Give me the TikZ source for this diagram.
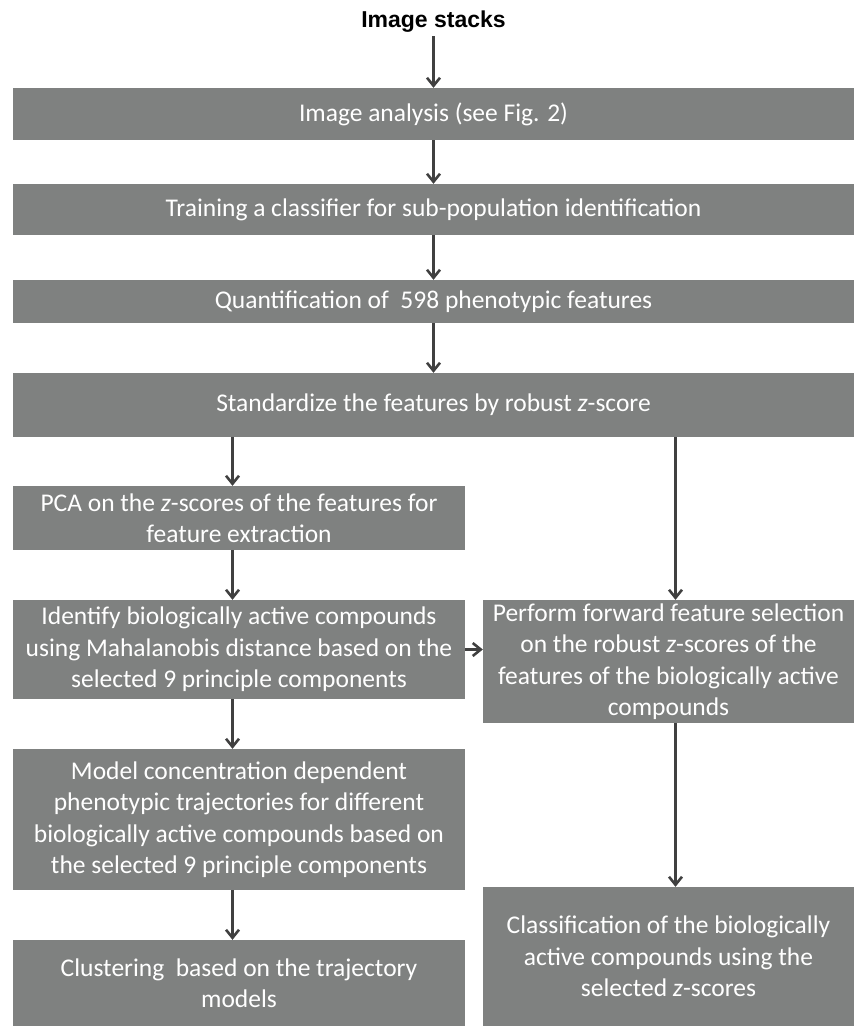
\documentclass[tikz,border=0pt]{standalone}
\usepackage{fontspec}
\setmainfont{Carlito}
\newfontfamily\titlefont{Liberation Sans}
\usetikzlibrary{arrows.meta,positioning}
\definecolor{boxgray}{RGB}{127,129,128}
\definecolor{arrowgray}{RGB}{64,64,64}
\tikzset{
  stepbox/.style={fill=boxgray,text=white,align=center,inner sep=0pt,
    font=\fontsize{25.5}{31.5}\selectfont},
  arr/.style={draw=arrowgray,line width=2.6pt,-{Straight Barb[length=8pt,width=13pt]}}
}

\begin{document}
\begin{tikzpicture}[x=1pt,y=-1pt]
\useasboundingbox (0,0) rectangle (854,1026);
\node[font=\titlefont\bfseries\fontsize{23}{27}\selectfont] (stacks) at (433.5,22) {Image stacks};
% full width steps
\node[stepbox,minimum width=841pt,minimum height=52pt] (analysis) at (433.5,114) {Image analysis (see Fig. 2)};
\node[stepbox,minimum width=841pt,minimum height=51pt] (training) at (433.5,209.5) {Training a classifier for sub-population identification};
\node[stepbox,minimum width=841pt,minimum height=43pt] (quant) at (433.5,301.5) {Quantification of~ 598 phenotypic features};
\node[stepbox,minimum width=841pt,minimum height=64pt] (standard) at (433.5,405) {Standardize the features by robust \textit{z}-score};
% left column
\node[stepbox,minimum width=452pt,minimum height=64pt] (pca) at (239,518) {PCA on the \textit{z}-scores of the features for\\feature extraction};
\node[stepbox,minimum width=452pt,minimum height=99pt] (identify) at (239,649.5) {Identify biologically active compounds\\using Mahalanobis distance based on the\\selected 9 principle components};
\node[stepbox,minimum width=452pt,minimum height=141pt] (model) at (239,819.5) {Model concentration dependent\\phenotypic trajectories for different\\biologically active compounds based on\\the selected 9 principle components};
\node[stepbox,minimum width=452pt,minimum height=86pt] (cluster) at (239,983) {Clustering~ based on the trajectory\\models};
% right column
\node[stepbox,minimum width=371pt,minimum height=123pt] (forward) at (668.5,661.5) {Perform forward feature selection\\on the robust \textit{z}-scores of the\\features of the biologically active\\compounds};
\node[stepbox,minimum width=371pt,minimum height=139pt] (classify) at (668.5,956.5) {Classification of the biologically\\active compounds using the\\selected \textit{z}-scores};

\coordinate (lcol) at (232.5,0);
\coordinate (rcol) at (675.5,0);
\draw[arr] (stacks) -- (analysis);
\foreach \a/\b in {analysis/training,training/quant,quant/standard}
  \draw[arr] (\a) -- (\b);
\foreach \a/\b in {standard/pca,pca/identify,identify/model,model/cluster}
  \draw[arr] (\a.south -| lcol) -- (\b.north -| lcol);
\draw[arr] (standard.south -| rcol) -- (forward.north -| rcol);
\draw[arr] (forward.south -| rcol) -- (classify.north -| rcol);
\draw[arr] (identify.east) -- (identify.east -| forward.west);
\end{tikzpicture}
\end{document}
